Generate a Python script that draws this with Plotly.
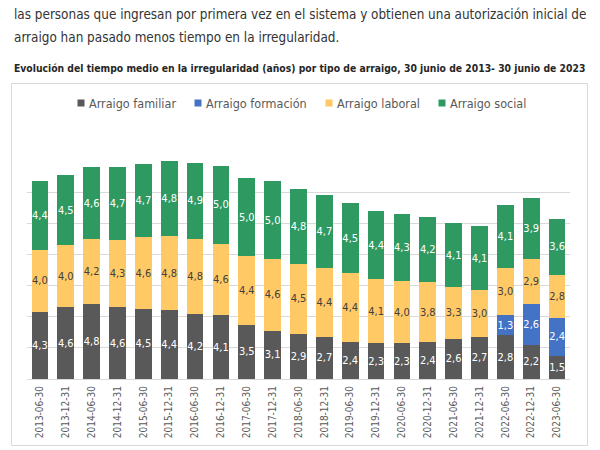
import plotly.graph_objects as go

categories = ["2013-06-30", "2013-12-31", "2014-06-30", "2014-12-31", "2015-06-30",
              "2015-12-31", "2016-06-30", "2016-12-31", "2017-06-30", "2017-12-31",
              "2018-06-30", "2018-12-31", "2019-06-30", "2019-12-31", "2020-06-30",
              "2020-12-31", "2021-06-30", "2021-12-31", "2022-06-30", "2022-12-31",
              "2023-06-30"]
familiar = [4.3, 4.6, 4.8, 4.6, 4.5, 4.4, 4.2, 4.1, 3.5, 3.1, 2.9, 2.7, 2.4, 2.3, 2.3,
            2.4, 2.6, 2.7, 2.8, 2.2, 1.5]
formacion = [None] * 18 + [1.3, 2.6, 2.4]
laboral = [4.0, 4.0, 4.2, 4.3, 4.6, 4.8, 4.8, 4.6, 4.4, 4.6, 4.5, 4.4, 4.4, 4.1, 4.0,
           3.8, 3.3, 3.0, 3.0, 2.9, 2.8]
social = [4.4, 4.5, 4.6, 4.7, 4.7, 4.8, 4.9, 5.0, 5.0, 5.0, 4.8, 4.7, 4.5, 4.4, 4.3,
          4.2, 4.1, 4.1, 4.1, 3.9, 3.6]
series_names = ["Arraigo familiar", "Arraigo formación", "Arraigo laboral", "Arraigo social"]

FONT = "DejaVu Sans Condensed, sans-serif"
colors = ["#595959", "#4472C4", "#FFC965", "#2E9A62"]
text_colors = ["white", "white", "#404040", "white"]

fig = go.Figure()
for name, vals, color, tcolor in zip(series_names, [familiar, formacion, laboral, social],
                                     colors, text_colors):
    fig.add_trace(go.Bar(
        x=categories, y=vals, name=name,
        marker=dict(color=color, line=dict(width=0)),
        texttemplate="%{y:.1f}", textposition="inside", insidetextanchor="middle",
        textangle=0, constraintext="none",
        textfont=dict(color=tcolor, size=11, family=FONT),
        showlegend=False,
    ))

# plot area in pixels
L, R, T, B = 27, 570, 161, 379
W, H = 600, 450

def px(x):
    return (x - L) / (R - L)

def py(y):
    return (B - y) / (B - T)

shapes = [dict(type="rect", xref="paper", yref="paper",
               x0=px(11.5), x1=px(587.5), y0=py(445.5), y1=py(83.5),
               line=dict(color="#D9D9D9", width=1), fillcolor="rgba(0,0,0,0)", layer="below")]
annotations = [
    dict(text="las personas que ingresan por primera vez en el sistema y obtienen una autorización inicial de",
         xref="paper", yref="paper", x=px(12), y=py(14), xanchor="left", yanchor="middle",
         showarrow=False, font=dict(size=13.4, color="#333333", family=FONT)),
    dict(text="arraigo han pasado menos tiempo en la irregularidad.",
         xref="paper", yref="paper", x=px(12), y=py(38), xanchor="left", yanchor="middle",
         showarrow=False, font=dict(size=13.4, color="#333333", family=FONT)),
    dict(text="<b>Evolución del tiempo medio en la irregularidad (años) por tipo de arraigo, 30 junio de 2013- 30 junio de 2023</b>",
         xref="paper", yref="paper", x=px(12), y=py(68), xanchor="left", yanchor="middle",
         showarrow=False, font=dict(size=10.3, color="#262626", family=FONT)),
]

# legend drawn manually (square + label)
legend_x = [81, 198, 329, 442]
legend_y = 103
for name, color, lx in zip(series_names, colors, legend_x):
    shapes.append(dict(type="rect", xref="paper", yref="paper",
                       x0=px(lx - 3.5), x1=px(lx + 3.5), y0=py(legend_y + 3.5), y1=py(legend_y - 3.5),
                       line=dict(width=0), fillcolor=color))
    annotations.append(dict(text=name, xref="paper", yref="paper", x=px(lx + 6), y=py(legend_y),
                            xanchor="left", yanchor="middle", showarrow=False,
                            font=dict(size=12.5, color="#595959", family=FONT)))

fig.update_layout(
    width=W, height=H,
    barmode="stack", bargap=0.355,
    separators=",.",
    paper_bgcolor="white", plot_bgcolor="white",
    margin=dict(l=L, r=W - R, t=T, b=H - B, pad=0),
    font=dict(family=FONT, color="#595959"),
    showlegend=False,
    xaxis=dict(type="category", tickangle=-90, showgrid=False, showline=False,
               ticks="", tickfont=dict(size=10, color="#595959", family=FONT),
               ticklabelstandoff=4),
    yaxis=dict(range=[0, 14], dtick=2, showticklabels=False, showgrid=True,
               gridcolor="#D9D9D9", gridwidth=1, zeroline=True, zerolinecolor="#D9D9D9",
               zerolinewidth=1, showline=False),
    shapes=shapes,
    annotations=annotations,
)

fig.write_html("out.html")
